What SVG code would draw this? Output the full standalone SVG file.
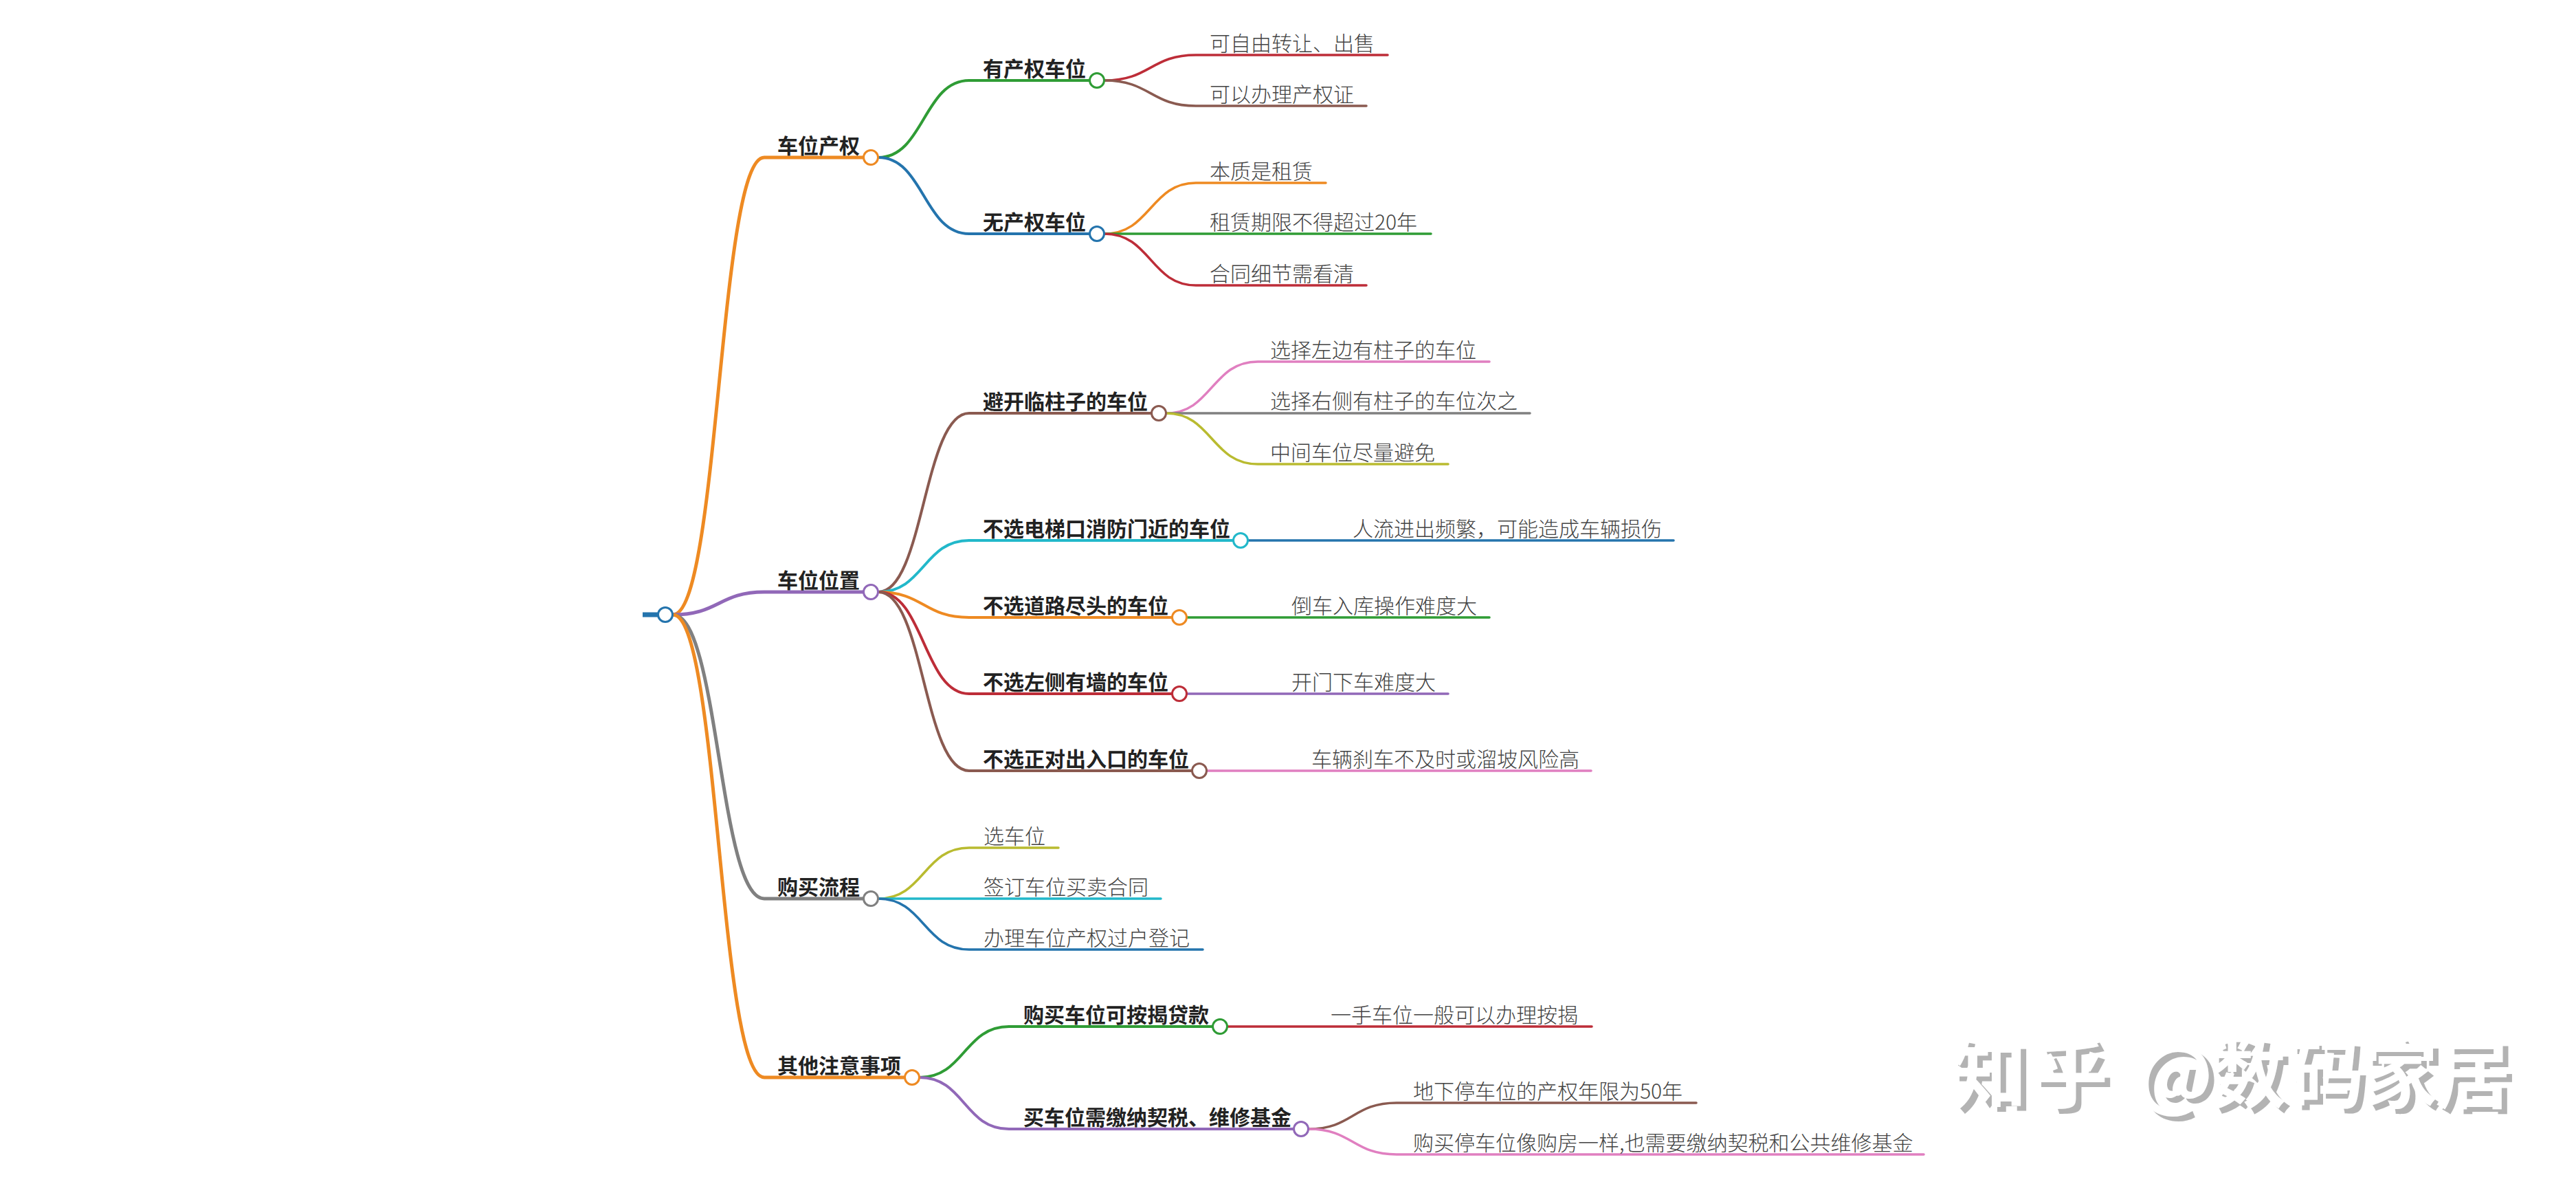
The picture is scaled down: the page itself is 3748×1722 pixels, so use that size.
<svg xmlns="http://www.w3.org/2000/svg" width="3748" height="1722" viewBox="0 0 3748 1722">
<defs>
<filter id="wm" x="-5%" y="-20%" width="110%" height="140%"><feDropShadow dx="8" dy="7" stdDeviation="0" flood-color="#b3b3b3"/></filter>
</defs>
<style>
text{font-family:"Noto Sans CJK SC","Noto Sans",sans-serif;font-size:30px}
.b{font-weight:700;fill:#222}
.l{font-weight:300;fill:#444}
.c path{fill:none;stroke-linecap:round}
.d1{stroke-width:5}
.d2{stroke-width:4}
.d3{stroke-width:3.5}
circle{fill:#fff;stroke-width:3;}
.o{stroke:#ee8a22}.g{stroke:#2f9c35}.u{stroke:#2474ad}.r{stroke:#bd2d38}.n{stroke:#8a5a50}.p{stroke:#9168b8}.k{stroke:#e07fc0}.y{stroke:#808080}.v{stroke:#b9bb30}.t{stroke:#22b8ca}
</style>
<rect width="3748" height="1722" fill="#fff"/>
<g id="connectors" class="c">
<path class="u" d="M935 894H968" stroke-width="7" style="stroke-linecap:butt"/>
<path class="o d1" d="M979 894C1046 894 1046 229 1112 229H1257"/>
<path class="p d1" d="M979 894C1046 894 1046 861 1112 861H1257"/>
<path class="y d1" d="M979 894C1046 894 1046 1307 1112 1307H1257"/>
<path class="o d1" d="M979 894C1046 894 1046 1567 1112 1567H1317"/>
<path class="g d2" d="M1278 229C1344 229 1344 117 1410 117H1586"/>
<path class="u d2" d="M1278 229C1344 229 1344 340 1410 340H1586"/>
<path class="n d2" d="M1278 861C1344 861 1344 601 1410 601H1676"/>
<path class="t d2" d="M1278 861C1344 861 1344 786 1410 786H1794"/>
<path class="o d2" d="M1278 861C1344 861 1344 898 1410 898H1706"/>
<path class="r d2" d="M1278 861C1344 861 1344 1009 1410 1009H1706"/>
<path class="n d2" d="M1278 861C1344 861 1344 1121 1410 1121H1735"/>
<path class="v d3" d="M1278 1307C1344 1307 1344 1233 1410 1233H1540"/>
<path class="t d3" d="M1278 1307H1689"/>
<path class="u d3" d="M1278 1307C1344 1307 1344 1381 1410 1381H1750"/>
<path class="g d2" d="M1338 1567C1403 1567 1403 1493 1468 1493H1765"/>
<path class="p d2" d="M1338 1567C1403 1567 1403 1642 1468 1642H1883"/>
<path class="r d3" d="M1607 117C1674 117 1674 80 1740 80H2019"/>
<path class="n d3" d="M1607 117C1674 117 1674 154 1740 154H1988"/>
<path class="o d3" d="M1607 340C1674 340 1674 266 1740 266H1929"/>
<path class="g d3" d="M1607 340H2082"/>
<path class="r d3" d="M1607 340C1674 340 1674 415 1740 415H1988"/>
<path class="k d3" d="M1697 601C1763 601 1763 526 1830 526H2167"/>
<path class="y d3" d="M1697 601H2226"/>
<path class="v d3" d="M1697 601C1763 601 1763 675 1830 675H2107"/>
<path class="u d3" d="M1815 786H2435"/>
<path class="g d3" d="M1727 898H2167"/>
<path class="p d3" d="M1727 1009H2107"/>
<path class="k d3" d="M1756 1121H2315"/>
<path class="r d3" d="M1786 1493H2316"/>
<path class="n d3" d="M1904 1642C1968 1642 1968 1604 2032 1604H2468"/>
<path class="k d3" d="M1904 1642C1968 1642 1968 1679 2032 1679H2799"/>
</g>
<g id="root"><circle class="u" cx="968" cy="894" r="10.5"/></g>
<g id="n1"><circle class="o" cx="1267" cy="229" r="10.5"/><text class="b" x="1131" y="223">车位产权</text></g>
<g id="n2"><circle class="p" cx="1267" cy="861" r="10.5"/><text class="b" x="1131" y="855">车位位置</text></g>
<g id="n3"><circle class="y" cx="1267" cy="1307" r="10.5"/><text class="b" x="1131" y="1301">购买流程</text></g>
<g id="n4"><circle class="o" cx="1327" cy="1567" r="10.5"/><text class="b" x="1131" y="1561">其他注意事项</text></g>
<g id="n11"><circle class="g" cx="1596" cy="117" r="10.5"/><text class="b" x="1430" y="111">有产权车位</text></g>
<g id="n12"><circle class="u" cx="1596" cy="340" r="10.5"/><text class="b" x="1430" y="334">无产权车位</text></g>
<g id="n21"><circle class="n" cx="1686" cy="601" r="10.5"/><text class="b" x="1430" y="595">避开临柱子的车位</text></g>
<g id="n22"><circle class="t" cx="1805" cy="786" r="10.5"/><text class="b" x="1430" y="780">不选电梯口消防门近的车位</text></g>
<g id="n23"><circle class="o" cx="1716" cy="898" r="10.5"/><text class="b" x="1430" y="892">不选道路尽头的车位</text></g>
<g id="n24"><circle class="r" cx="1716" cy="1009" r="10.5"/><text class="b" x="1430" y="1003">不选左侧有墙的车位</text></g>
<g id="n25"><circle class="n" cx="1745" cy="1121" r="10.5"/><text class="b" x="1430" y="1115">不选正对出入口的车位</text></g>
<g id="n41"><circle class="g" cx="1775" cy="1493" r="10.5"/><text class="b" x="1489" y="1487">购买车位可按揭贷款</text></g>
<g id="n42"><circle class="p" cx="1893" cy="1642" r="10.5"/><text class="b" x="1489" y="1636">买车位需缴纳契税、维修基金</text></g>
<g id="l1"><text class="l" x="1760" y="74">可自由转让、出售</text></g>
<g id="l2"><text class="l" x="1760" y="148">可以办理产权证</text></g>
<g id="l3"><text class="l" x="1760" y="260">本质是租赁</text></g>
<g id="l4"><text class="l" x="1760" y="334">租赁期限不得超过20年</text></g>
<g id="l5"><text class="l" x="1760" y="409">合同细节需看清</text></g>
<g id="l6"><text class="l" x="1848" y="520">选择左边有柱子的车位</text></g>
<g id="l7"><text class="l" x="1848" y="594">选择右侧有柱子的车位次之</text></g>
<g id="l8"><text class="l" x="1848" y="669">中间车位尽量避免</text></g>
<g id="l9"><text class="l" x="1968" y="780">人流进出频繁，可能造成车辆损伤</text></g>
<g id="l10"><text class="l" x="1879" y="892">倒车入库操作难度大</text></g>
<g id="l11"><text class="l" x="1879" y="1003">开门下车难度大</text></g>
<g id="l12"><text class="l" x="1908" y="1115">车辆刹车不及时或溜坡风险高</text></g>
<g id="l13"><text class="l" x="1431" y="1227">选车位</text></g>
<g id="l14"><text class="l" x="1431" y="1301">签订车位买卖合同</text></g>
<g id="l15"><text class="l" x="1431" y="1375">办理车位产权过户登记</text></g>
<g id="l16"><text class="l" x="1936" y="1487">一手车位一般可以办理按揭</text></g>
<g id="l17"><text class="l" x="2056" y="1598">地下停车位的产权年限为50年</text></g>
<g id="l18"><text class="l" x="2056" y="1673">购买停车位像购房一样,也需要缴纳契税和公共维修基金</text></g>
<text x="2839 2957 3060 3109 3216 3330 3437 3543" y="1603" filter="url(#wm)" style="font-size:110px;font-weight:700;fill:#fff">知乎 @数码家居</text>
</svg>
